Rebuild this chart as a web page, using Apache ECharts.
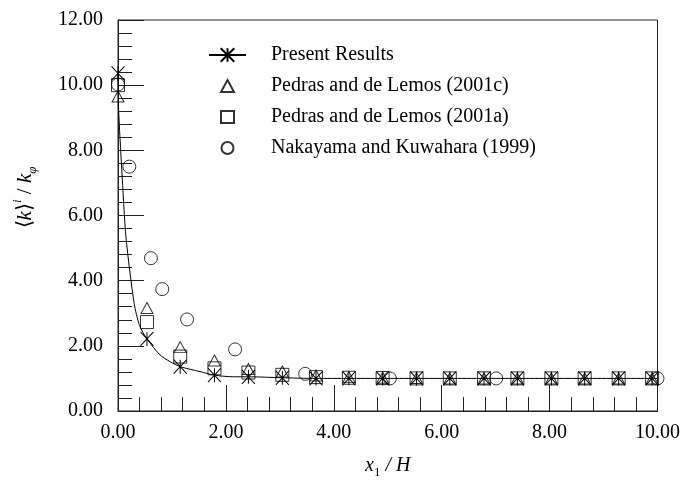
<!DOCTYPE html>
<html>
<head>
<meta charset="utf-8">
<script src="https://cdn.jsdelivr.net/npm/echarts@6/dist/echarts.min.js"></script>
<style>html,body{margin:0;padding:0;background:#fff;}#c{width:683px;height:488px;}</style>
</head>
<body>
<div id="c"></div>
<script>
// x positions of the computed / Pedras points
const xPos = [0, 0.537, 1.153, 1.788, 2.417, 3.046, 3.67, 4.28, 4.905, 5.534, 6.15, 6.785, 7.403, 8.033, 8.65, 9.28, 9.90];
const presentY = [10.36, 2.21, 1.36, 1.10, 1.05, 1.02, 1.00, 1.00, 1.00, 1.00, 1.00, 1.00, 1.00, 1.00, 1.00, 1.00, 1.00];
const pedrasCY = [9.65, 3.16, 1.96, 1.55, 1.29, 1.21, 1.09, 1.04, 1.02, 1.01, 1.00, 1.00, 1.00, 1.00, 1.00, 1.00, 1.00];
const pedrasAY = [10.0, 2.73, 1.67, 1.31, 1.18, 1.11, 1.04, 1.02, 1.01, 1.00, 1.00, 1.00, 1.00, 1.00, 1.00, 1.00, 1.00];
const nakaX = [0, 0.21, 0.61, 0.82, 1.28, 2.17, 3.47, 5.04, 7.01, 10.0];
const nakaY = [10.02, 7.5, 4.69, 3.74, 2.81, 1.89, 1.14, 1.0, 1.0, 1.0];
// extra points on the computed curve (no marker)
const curveX = [0.01, 0.07, 0.15, 0.30, 0.40, 0.78, 0.97, 1.52, 2.14, 10.0];
const curveY = [9.3, 7.4, 5.3, 3.3, 2.62, 1.72, 1.51, 1.21, 1.05, 1.0];
const xTicks = [0, 2, 4, 6, 8, 10];
const yTicks = [0, 2, 4, 6, 8, 10, 12];
const names = ['Present Results', 'Pedras and de Lemos (2001c)', 'Pedras and de Lemos (2001a)', 'Nakayama and Kuwahara (1999)'];

const starPath = 'path://M0,0L0,2M-1,0L1,2M-1,2L1,0';
const FONT = 'Liberation Serif';

let linePts = [];
xPos.forEach((x, i) => linePts.push({ value: [x, presentY[i]] }));
curveX.forEach((x, i) => linePts.push({ value: [x, curveY[i]], symbol: 'none' }));
linePts.sort((a, b) => a.value[0] - b.value[0]);

const hollow = { color: 'transparent', borderColor: '#000', borderWidth: 1 };

const chart = echarts.init(document.getElementById('c'), null, { renderer: 'canvas' });
const axisCommon = {
  axisLine: { show: true, lineStyle: { color: '#222', width: 1 } },
  axisTick: { show: true, inside: true, length: 26, lineStyle: { color: '#222', width: 1 } },
  minorTick: { show: true, splitNumber: 5, length: 14, lineStyle: { color: '#222', width: 1 } },
  splitLine: { show: false },
  axisLabel: { color: '#000', fontFamily: FONT, fontSize: 20, formatter: v => v.toFixed(2) }
};
chart.setOption({
  animation: false,
  backgroundColor: '#fff',
  grid: { left: 118, right: 25, top: 20, bottom: 77, show: true, borderColor: '#222', borderWidth: 1 },
  legend: [
    {
      data: [names[0]], orient: 'vertical', left: 203, top: 40,
      itemWidth: 37, itemHeight: 17,
      textStyle: { fontFamily: FONT, fontSize: 20, color: '#000', padding: [0, 0, 0, 20] },
      selectedMode: false
    },
    {
      data: names.slice(1), orient: 'vertical', left: 215, top: 71,
      itemWidth: 13, itemHeight: 12, itemGap: 11,
      textStyle: { fontFamily: FONT, fontSize: 20, color: '#000', padding: [0, 0, 0, 32] },
      selectedMode: false
    }
  ],
  xAxis: Object.assign({}, axisCommon, {
    type: 'value', min: xTicks[0], max: xTicks[xTicks.length - 1], interval: 2,
    axisLabel: Object.assign({}, axisCommon.axisLabel, { margin: 12 }),
    name: '{i|x}{s|1}{n| / }{i|H}', nameLocation: 'middle', nameGap: 42,
    nameTextStyle: {
      rich: {
        i: { fontFamily: FONT, fontStyle: 'italic', fontSize: 20, color: '#000', lineHeight: 26 },
        n: { fontFamily: FONT, fontStyle: 'italic', fontSize: 20, color: '#000', lineHeight: 26 },
        s: { fontFamily: FONT, fontSize: 13, color: '#000', lineHeight: 13, verticalAlign: 'bottom' }
      }
    }
  }),
  yAxis: Object.assign({}, axisCommon, {
    type: 'value', min: yTicks[0], max: yTicks[yTicks.length - 1], interval: 2,
    axisLabel: Object.assign({}, axisCommon.axisLabel, { margin: 15 }),
    name: '{n|\u27E8}{i|k}{n|\u27E9}{sup|i}{n| / }{i|k}{sub|\u03C6}', nameLocation: 'middle', nameGap: 79, nameRotate: 90,
    nameTextStyle: {
      padding: [0, 0, 0, 36],
      rich: {
        i: { fontFamily: FONT, fontStyle: 'italic', fontSize: 21, color: '#000', lineHeight: 28 },
        n: { fontFamily: FONT, fontSize: 21, color: '#000', lineHeight: 28 },
        sup: { fontFamily: FONT, fontStyle: 'italic', fontSize: 13, color: '#000', lineHeight: 13, verticalAlign: 'top' },
        sub: { fontFamily: FONT, fontStyle: 'italic', fontSize: 13, color: '#000', lineHeight: 13, verticalAlign: 'bottom' }
      }
    }
  }),
  series: [
    {
      name: names[0], type: 'line', data: linePts, clip: false,
      symbol: starPath, symbolSize: [13, 14], showSymbol: true, smooth: 0.25,
      lineStyle: { color: '#000', width: 1 },
      itemStyle: { color: '#000', borderColor: '#000', borderWidth: 1 },
      z: 5
    },
    {
      name: names[1], type: 'scatter', clip: false,
      data: xPos.map((x, i) => [x, pedrasCY[i]]),
      symbol: 'triangle', symbolSize: [12, 11], itemStyle: hollow
    },
    {
      name: names[2], type: 'scatter', clip: false,
      data: xPos.map((x, i) => [x, pedrasAY[i]]),
      symbol: 'rect', symbolSize: 13, itemStyle: hollow
    },
    {
      name: names[3], type: 'scatter', clip: false,
      data: nakaX.map((x, i) => [x, nakaY[i]]),
      symbol: 'circle', symbolSize: 13, itemStyle: hollow
    }
  ]
});
</script>
</body>
</html>
